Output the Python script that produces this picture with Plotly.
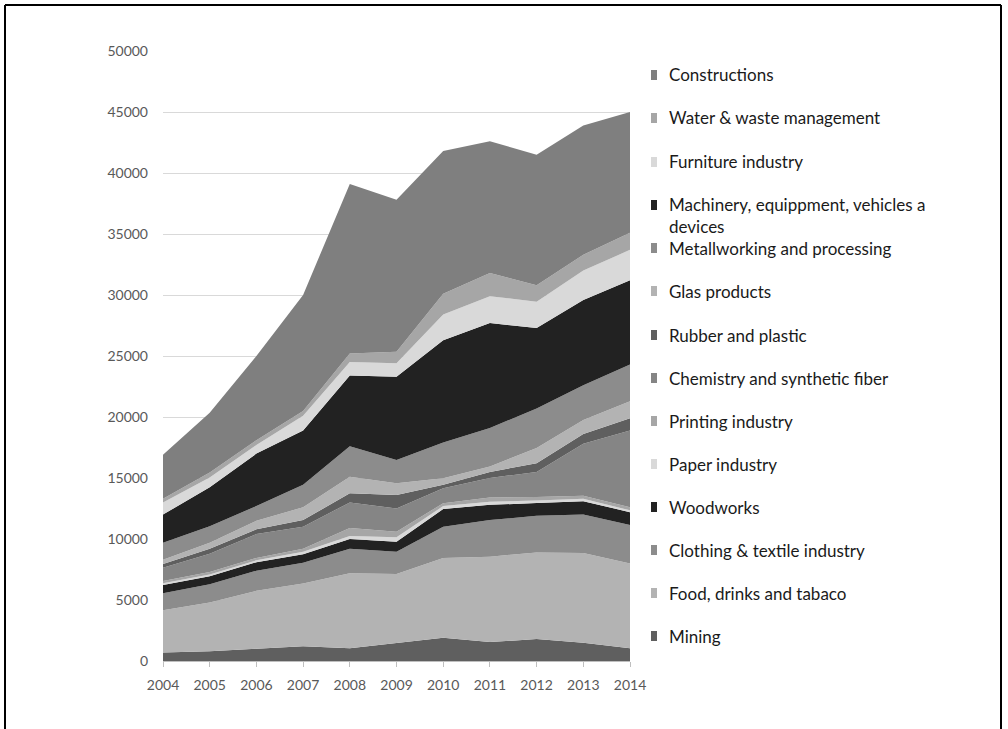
import plotly.graph_objects as go

years = [2004, 2005, 2006, 2007, 2008, 2009, 2010, 2011, 2012, 2013, 2014]

# Series values (not cumulative), stacked from bottom (Mining) to top (Constructions)
mining        = [700, 800, 1000, 1200, 1050, 1450, 1900, 1550, 1800, 1500, 1050]
food          = [3450, 4000, 4750, 5150, 6150, 5680, 6550, 7000, 7100, 7350, 6950]
clothing      = [1400, 1500, 1650, 1700, 2000, 1830, 2550, 3000, 3000, 3150, 3150]
woodworks     = [680, 650, 700, 700, 800, 820, 1450, 1250, 1050, 1100, 1050]
paper         = [140, 130, 150, 200, 250, 360, 250, 250, 200, 200, 150]
printing      = [180, 220, 200, 250, 650, 460, 230, 350, 300, 250, 250]
chemistry     = [1100, 1500, 1950, 1800, 2100, 1900, 1220, 1600, 2050, 4250, 6300]
rubber        = [300, 400, 400, 550, 750, 1100, 300, 500, 700, 800, 1000]
glas          = [350, 500, 700, 1050, 1350, 970, 520, 450, 1250, 1150, 1400]
metalworking  = [1400, 1350, 1200, 1850, 2500, 1910, 2930, 3150, 3250, 2850, 3000]
machinery     = [2300, 3200, 4300, 4450, 5800, 6820, 8400, 8600, 6600, 7000, 6900]
furniture     = [1000, 800, 700, 1200, 1100, 1100, 2100, 2200, 2150, 2400, 2500]
water         = [300, 400, 400, 400, 700, 950, 1700, 1900, 1350, 1300, 1400]
constructions = [3600, 4900, 6900, 9500, 13900, 12450, 11700, 10800, 10700, 10600, 9900]

names = [
    "Mining", "Food, drinks and tabaco", "Clothing & textile industry", "Woodworks",
    "Paper industry", "Printing industry", "Chemistry and synthetic fiber",
    "Rubber and plastic", "Glas products", "Metallworking and processing",
    "Machinery, equippment, vehicles a<br>devices", "Furniture industry",
    "Water & waste management", "Constructions",
]
series = [mining, food, clothing, woodworks, paper, printing, chemistry, rubber,
          glas, metalworking, machinery, furniture, water, constructions]
colors = ["#5f5f5f", "#b3b3b3", "#8c8c8c", "#222222", "#d9d9d9", "#a6a6a6", "#858585",
          "#5f5f5f", "#b3b3b3", "#8c8c8c", "#222222", "#d9d9d9", "#a6a6a6", "#7f7f7f"]

y_ticks = list(range(0, 50001, 5000))

fig = go.Figure()
for name, vals, col in zip(names, series, colors):
    fig.add_trace(go.Scatter(
        x=years, y=vals, name=name, mode="lines", stackgroup="one",
        line=dict(width=0, color=col), fillcolor=col, showlegend=False,
    ))

# plot area geometry in pixels
L, R, T, B = 163, 630, 51, 661
W, H = 1008, 729

def px(x):
    return (x - L) / (R - L)

def py(y):
    return (B - y) / (B - T)

shapes = []
annotations = []
legend_font = dict(family="Lato", size=17, color="#1a1a1a")
# Legend (top to bottom: reverse of stacking order)
legend_y = [75, 118, 162, 205, 248, 291, 335, 378, 421, 464, 507, 550, 593, 636]
for i, (name, col) in enumerate(zip(names[::-1], colors[::-1])):
    yc = legend_y[i]
    shapes.append(dict(type="rect", xref="paper", yref="paper",
                       x0=px(651), x1=px(657), y0=py(yc + 5), y1=py(yc - 5),
                       fillcolor=col, line=dict(width=0)))
    if "<br>" in name:
        annotations.append(dict(text=name, xref="paper", yref="paper",
                                x=px(667), y=py(yc - 13), xanchor="left", yanchor="top",
                                align="left", showarrow=False, font=legend_font))
    else:
        annotations.append(dict(text=name, xref="paper", yref="paper",
                                x=px(667), y=py(yc), xanchor="left", yanchor="middle",
                                showarrow=False, font=legend_font))

# Outer frame
frame = dict(color="black", width=2)
shapes.append(dict(type="line", xref="paper", yref="paper", x0=px(5), x1=px(1001), y0=py(5), y1=py(5), line=frame))
shapes.append(dict(type="line", xref="paper", yref="paper", x0=px(5), x1=px(5), y0=py(5), y1=py(735), line=frame))
shapes.append(dict(type="line", xref="paper", yref="paper", x0=px(1001), x1=px(1001), y0=py(5), y1=py(735), line=frame))

tick_font = dict(family="Lato", size=14, color="#595959")
fig.update_layout(
    width=W, height=H,
    margin=dict(l=L, r=W - R, t=T, b=H - B),
    paper_bgcolor="white", plot_bgcolor="white",
    showlegend=False,
    shapes=shapes, annotations=annotations,
    font=dict(family="Lato", size=14, color="#595959"),
    xaxis=dict(range=[2004, 2014], tickvals=years, ticktext=[str(y) for y in years],
               showgrid=False, zeroline=False, showline=True, linecolor="#bfbfbf",
               linewidth=1, ticks="outside", ticklen=5, tickcolor="#bfbfbf",
               ticklabelstandoff=6, tickfont=tick_font),
    yaxis=dict(range=[0, 50000], tickvals=y_ticks, ticktext=[str(v) for v in y_ticks],
               showgrid=True, gridcolor="#d9d9d9", gridwidth=1, zeroline=False,
               showline=False, ticks="", ticklabelstandoff=14, tickfont=tick_font),
)

fig.write_html("out.html",
               config={"displayModeBar": False},
               post_script="document.body.style.margin='0';document.body.style.overflow='hidden';")
